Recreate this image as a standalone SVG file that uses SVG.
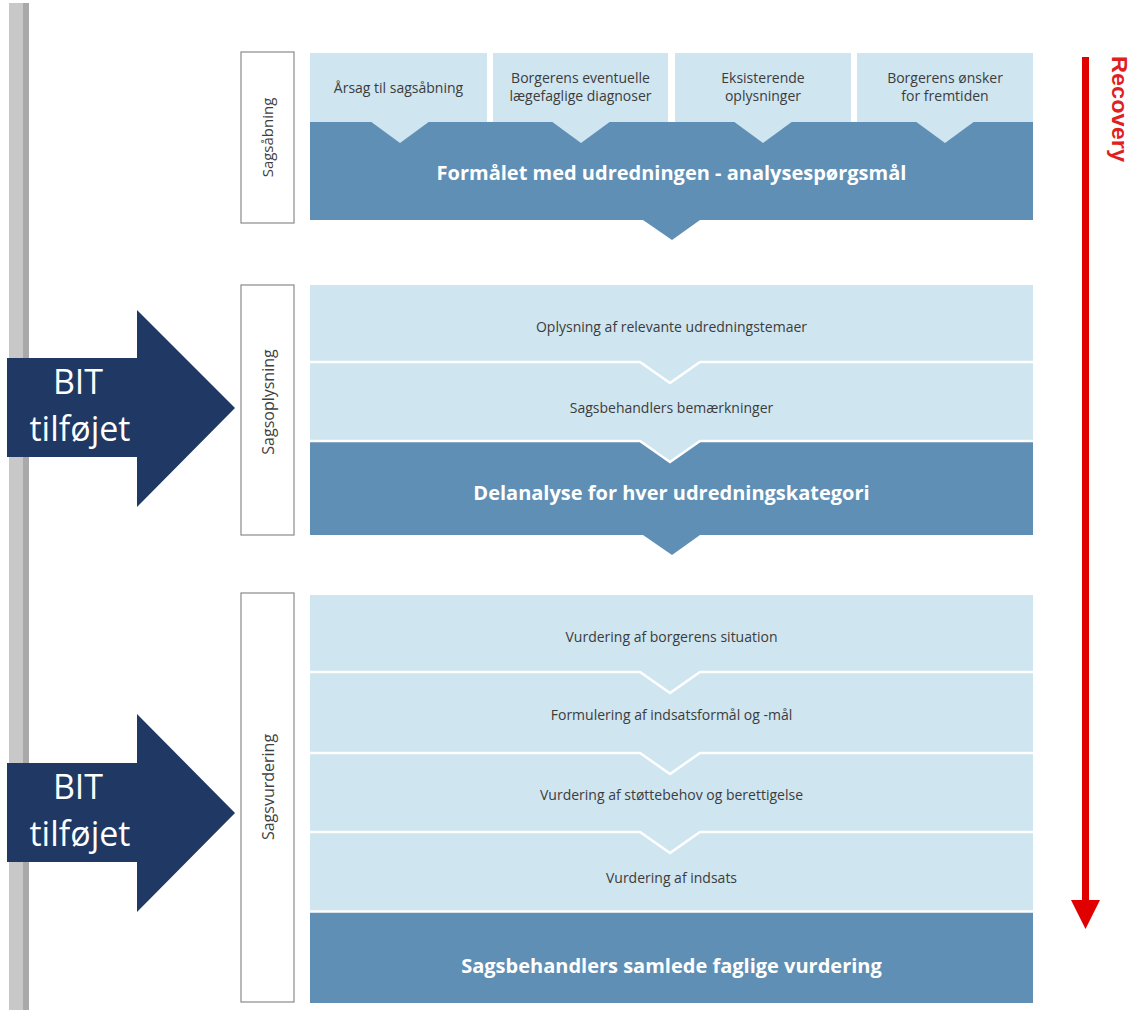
<svg xmlns="http://www.w3.org/2000/svg" width="1133" height="1010" viewBox="0 0 1133 1010">
<style>
.light{fill:#cfe5f0}
.dark{fill:#5f8fb4}
.sep{fill:none;stroke:#ffffff;stroke-width:2.5}
.lbl{fill:#ffffff;stroke:#8a8a8a;stroke-width:1.2}
.t{font-family:"Open Sans","Noto Sans",sans-serif;font-size:14px;fill:#3c3c3c;text-anchor:middle}
.tb{font-family:"Open Sans","Noto Sans",sans-serif;font-size:20px;font-weight:bold;fill:#ffffff;text-anchor:middle}
.tl{font-family:"Open Sans","Noto Sans",sans-serif;fill:#404040;text-anchor:middle}
.bit{font-family:"Open Sans","Noto Sans",sans-serif;font-size:34px;fill:#ffffff;text-anchor:middle}
.navy{fill:#1f3864}
</style>
<rect x="0" y="0" width="1133" height="1010" fill="#ffffff"/>
<g id="sidebar">
<rect x="9" y="3" width="14" height="1007" fill="#c8c8c8"/>
<rect x="23" y="3" width="6" height="1007" fill="#a9a9a9"/>
</g>

<g id="sec1">
<rect class="lbl" x="241" y="52" width="53" height="171"/>
<text class="tl" font-size="15" transform="translate(273,137.5) rotate(-90)">Sagsåbning</text>
<rect class="dark" x="310" y="122" width="723" height="98"/>
<polygon class="dark" points="643,220 672,240 700,220"/>
<g id="box-arsag">
<rect class="light" x="310" y="53" width="177" height="69"/>
<polygon class="light" points="370,121 400,143 430,121"/>
<text class="t" x="398.5" y="93">Årsag til sagsåbning</text>
</g>
<g id="box-diagnoser">
<rect class="light" x="493" y="53" width="175" height="69"/>
<polygon class="light" points="551,121 581,143 611,121"/>
<text class="t" x="580.5" y="83">Borgerens eventuelle</text>
<text class="t" x="580.5" y="101">lægefaglige diagnoser</text>
</g>
<g id="box-eksisterende">
<rect class="light" x="675" y="53" width="176" height="69"/>
<polygon class="light" points="733,121 763,143 793,121"/>
<text class="t" x="763" y="83">Eksisterende</text>
<text class="t" x="763" y="101">oplysninger</text>
</g>
<g id="box-onsker">
<rect class="light" x="857" y="53" width="176" height="69"/>
<polygon class="light" points="915,121 945,143 975,121"/>
<text class="t" x="945" y="83">Borgerens ønsker</text>
<text class="t" x="945" y="101">for fremtiden</text>
</g>
<text class="tb" x="671.5" y="180">Formålet med udredningen - analysespørgsmål</text>
</g>

<g id="sec2">
<rect class="lbl" x="241" y="285" width="53" height="250"/>
<text class="tl" font-size="16" transform="translate(274,402) rotate(-90)">Sagsoplysning</text>
<rect class="light" x="310" y="285" width="723" height="156"/>
<rect class="dark" x="310" y="441" width="723" height="94"/>
<polygon class="light" points="640,440 670,462 700,440"/>
<polygon class="dark" points="643,535 672,555 700,535"/>
<polyline class="sep" points="310,362 640,362 670,383 700,362 1033,362"/>
<polyline class="sep" points="310,441 640,441 670,462 700,441 1033,441"/>
<text class="t" x="671.5" y="332">Oplysning af relevante udredningstemaer</text>
<text class="t" x="671.5" y="413">Sagsbehandlers bemærkninger</text>
<text class="tb" x="671.5" y="500">Delanalyse for hver udredningskategori</text>
</g>

<g id="sec3">
<rect class="lbl" x="241" y="593" width="53" height="409"/>
<text class="tl" font-size="16" transform="translate(274,787) rotate(-90)">Sagsvurdering</text>
<rect class="light" x="310" y="595" width="723" height="317"/>
<rect class="dark" x="310" y="912" width="723" height="91"/>
<polyline class="sep" points="310,672 640,672 670,693 700,672 1033,672"/>
<polyline class="sep" points="310,753 640,753 670,774 700,753 1033,753"/>
<polyline class="sep" points="310,832 640,832 670,853 700,832 1033,832"/>
<line class="sep" x1="310" y1="911.5" x2="1033" y2="911.5"/>
<text class="t" x="671.5" y="642">Vurdering af borgerens situation</text>
<text class="t" x="671.5" y="720">Formulering af indsatsformål og -mål</text>
<text class="t" x="671.5" y="800">Vurdering af støttebehov og berettigelse</text>
<text class="t" x="671.5" y="883">Vurdering af indsats</text>
<text class="tb" x="671.5" y="973">Sagsbehandlers samlede faglige vurdering</text>
</g>

<g id="bit1">
<polygon class="navy" points="7,358 137,358 137,310 235,408 137,507 137,457 7,457"/>
<text class="bit" x="78" y="394">BIT</text>
<text class="bit" x="80" y="441">tilføjet</text>
</g>
<g id="bit2">
<polygon class="navy" points="7,763 137,763 137,714 235,813 137,912 137,862 7,862"/>
<text class="bit" x="78" y="799">BIT</text>
<text class="bit" x="80" y="846">tilføjet</text>
</g>

<g id="recovery">
<line x1="1085.5" y1="57" x2="1085.5" y2="901" stroke="#e00000" stroke-width="7"/>
<polygon points="1071,900 1100,900 1085.5,929" fill="#e00000"/>
<text font-family="'Liberation Sans',Arial,sans-serif" font-size="22" font-weight="bold" fill="#e02020" textLength="106" lengthAdjust="spacingAndGlyphs" transform="translate(1112,56) rotate(90)">Recovery</text>
</g>
</svg>
